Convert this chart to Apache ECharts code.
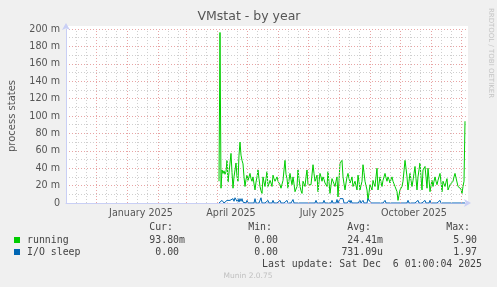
<!DOCTYPE html>
<html><head><meta charset="utf-8">
<script src="https://cdn.jsdelivr.net/npm/echarts@6/dist/echarts.min.js"></script>
<style>html,body{margin:0;padding:0;background:#f0f0f0}#c{width:497px;height:287px}</style>
</head><body><div id="c"></div>
<script>
// ---- data ----
const axisStart = '2024-11-01';
const axisDays = 400;
const seriesStart = '2025-04-03';
const runningValues = [
 25,196,17,38,34,37,33,36,49,24,
 25,22,57,35,17,30,38,46,30,25,
 55,70,55,49,45,30,19,27,32,26,
 30,34,28,25,30,22,15,24,30,38,
 28,19,14,11,30,24,19,28,36,19,
 22,26,23,19,32,28,25,27,30,25,
 23,21,17,15,26,38,49,33,28,17,
 26,34,27,21,30,22,13,16,19,38,
 28,19,14,11,25,22,19,30,38,21,
 22,23,21,19,44,34,25,28,32,13,
 24,34,30,25,30,27,23,21,19,36,
 24,11,20,28,25,22,19,25,30,7,
 26,46,47,49,30,22,15,23,30,34,
 28,23,26,30,19,22,25,20,15,32,
 24,15,20,25,44,35,25,20,15,3,
 12,21,18,15,26,22,19,30,40,15,
 22,30,24,19,26,30,34,29,25,30,
 27,23,27,30,25,22,19,16,13,3,
 9,15,17,19,25,37,49,40,30,15,
 25,34,26,19,26,34,42,28,15,30,
 38,46,30,15,38,40,42,30,17,40,
 27,13,20,26,19,25,30,25,21,26,
 30,34,24,13,25,22,19,24,28,15,
 18,21,20,19,25,30,34,33,32,19,
 20,21,16,11,19,25,94
];
const ioSleepValues = [
 0,0,2,3,1,0,2,1,3,3,
 3,3,3,3,5,2,6,4,2,5,
 1,5,2,5,1,3,0,0,3,0,
 0,0,0,0,0,0,5,0,0,0,
 0,0,6,0,0,0,0,0,0,3,
 0,0,0,0,3,0,0,0,0,0,
 0,3,0,0,0,0,0,0,3,0,
 0,0,0,0,4,0,0,0,0,0,
 0,0,0,0,0,0,0,0,0,0,
 0,0,0,0,0,0,0,3,0,0,
 0,0,0,0,0,3,0,0,0,0,
 0,0,0,3,0,0,0,0,4,0,
 0,5,6,4,5,0,0,0,0,0,
 3,0,3,0,0,0,0,0,0,0,
 0,3,0,0,3,0,0,0,0,5,
 7,6,0,0,0,0,0,0,0,0,
 0,0,0,0,0,0,3,0,0,0,
 0,0,0,0,0,0,0,0,0,0,
 0,0,0,0,0,0,0,0,0,3,
 0,0,0,0,0,0,0,0,0,3,
 0,0,0,0,0,0,3,0,0,0,
 0,3,0,0,0,0,0,0,0,0,
 0,3,0,0,0,0,0,0,0,0,
 0,0,0,0,0,0,0,0,0,0,
 0,0,0,0,0,0,0
];
const tickLabels = ['January 2025','April 2025','July 2025','October 2025'];
const tickLabelDates = ['2025-01-15','2025-04-15','2025-07-15','2025-10-15'];
const yMax = 200;
const yStep = 20;
const seriesNames = ['running','I/O sleep'];
const seriesColors = ['#00cc00','#0066b3'];
const statHeaders = ['Cur:','Min:','Avg:','Max:'];
const statCur = ['93.80m','0.00 '];
const statMin = ['0.00 ','0.00 '];
const statAvg = ['24.41m','731.09u'];
const statMax = ['5.90 ','1.97 '];
const lastUpdate = 'Last update: Sat Dec  6 01:00:04 2025';

// ---- helpers ----
const DAY = 86400000;
const t0 = Date.parse(axisStart + 'T00:00:00Z');
const dayOf = s => (Date.parse(s + 'T00:00:00Z') - t0) / DAY;
const s0 = dayOf(seriesStart);
const runData = runningValues.map((v, i) => [s0 + i, v]);
const ioData = ioSleepValues.map((v, i) => [s0 + i, v]);
const labelDays = tickLabelDates.map(dayOf);

// month grid lines
const gridLines = [];
for (let y = 2024, m = 11; y < 2026 || (y === 2026 && m < 1); ) {
  const mm = String(m).padStart(2, '0');
  const d1 = dayOf(`${y}-${mm}-01`);
  if (d1 > 0 && d1 < axisDays) gridLines.push({xAxis: d1, lineStyle: {color: '#e8a4a4', type: [1, 2], width: 1}});
  ['11', '21'].forEach(dd => {
    const d = dayOf(`${y}-${mm}-${dd}`);
    if (d > 0 && d < axisDays) gridLines.push({xAxis: d, lineStyle: {color: '#cfcfcf', type: [1, 2], width: 1}});
  });
  m++; if (m > 12) { m = 1; y++; }
}

const FONT = 'DejaVu Sans';
const MONO = 'DejaVu Sans Mono';
const TXT = '#555';

const graphic = [
  {type: 'rect', shape: {x: 66, y: 26, width: 402, height: 177}, style: {fill: '#fff'}, z: -10, silent: true},
  {type: 'text', x: 249, y: 17, style: {text: 'VMstat - by year', font: `12.5px "${FONT}"`, fill: TXT, align: 'center', verticalAlign: 'middle'}},
  {type: 'text', x: 12, y: 116, rotation: Math.PI / 2, style: {text: 'process states', font: `10px "${FONT}"`, fill: TXT, align: 'center', verticalAlign: 'middle'}},
  {type: 'text', x: 491, y: 53, rotation: -Math.PI / 2, style: {text: 'RRDTOOL / TOBI OETIKER', font: `7px "${FONT}"`, fill: '#c4c4c4', align: 'center', verticalAlign: 'middle'}},
  {type: 'text', x: 248, y: 276, style: {text: 'Munin 2.0.75', font: `7.5px "${FONT}"`, fill: '#c0c0c0', align: 'center', verticalAlign: 'middle'}},
  {type: 'text', x: 482, y: 264, style: {text: lastUpdate, font: `9.9px "${MONO}"`, fill: '#444', align: 'right', verticalAlign: 'middle'}}
];
const headerRight = [173, 272, 371, 470];
statHeaders.forEach((h, i) => graphic.push({type: 'text', x: headerRight[i], y: 227, style: {text: h, font: `9.9px "${MONO}"`, fill: '#444', align: 'right', verticalAlign: 'middle'}}));
const colRight = [185, 284, 383, 483];
const rowY = [240, 252];
seriesNames.forEach((n, r) => {
  graphic.push({type: 'rect', shape: {x: 14, y: rowY[r] - 3, width: 6, height: 6}, style: {fill: seriesColors[r]}});
  graphic.push({type: 'text', x: 27, y: rowY[r], style: {text: n, font: `9.9px "${MONO}"`, fill: '#444', align: 'left', verticalAlign: 'middle'}});
  [statCur, statMin, statAvg, statMax].forEach((arr, c) => {
    graphic.push({type: 'text', x: colRight[c], y: rowY[r], style: {text: arr[r], font: `9.9px "${MONO}"`, fill: '#444', align: 'right', verticalAlign: 'middle'}});
  });
});

const chart = echarts.init(document.getElementById('c'), null, {renderer: 'canvas'});
chart.setOption({
  animation: false,
  backgroundColor: '#f0f0f0',
  grid: {left: 66, right: 31, top: 29, bottom: 84},
  xAxis: {
    type: 'value', min: 0, max: axisDays,
    axisLine: {show: true, lineStyle: {color: '#c9cff5', width: 1}, symbol: ['none', 'arrow'], symbolSize: [6, 7], symbolOffset: [0, 5]},
    axisTick: {show: false},
    splitLine: {show: false},
    axisLabel: {
      customValues: labelDays,
      formatter: v => { const i = labelDays.findIndex(d => Math.abs(d - v) < 0.01); return i >= 0 ? tickLabels[i] : ''; },
      color: TXT, fontSize: 9.6, fontFamily: FONT, margin: 5
    }
  },
  yAxis: {
    type: 'value', min: 0, max: yMax, interval: yStep,
    axisLine: {show: true, lineStyle: {color: '#c9cff5', width: 1}, symbol: ['none', 'arrow'], symbolSize: [6, 7], symbolOffset: [0, 6]},
    axisTick: {show: false},
    axisLabel: {formatter: v => v === 0 ? '0' : v + ' m', color: TXT, fontSize: 9.6, fontFamily: FONT, margin: 6},
    splitLine: {show: true, lineStyle: {color: '#e8a4a4', type: [1, 2], width: 1}},
    minorTick: {show: false, splitNumber: 2},
    minorSplitLine: {show: true, lineStyle: {color: '#cfcfcf', type: [1, 2], width: 1}}
  },
  graphic: graphic,
  series: [
    {type: 'line', data: [], silent: true, z: 1, markLine: {silent: true, symbol: ['none', 'none'], label: {show: false}, animation: false, data: gridLines}},
    {name: seriesNames[0], type: 'line', data: runData, showSymbol: false, symbol: 'none', z: 3, lineStyle: {color: seriesColors[0], width: 1}, itemStyle: {color: seriesColors[0]}},
    {name: seriesNames[1], type: 'line', data: ioData, showSymbol: false, symbol: 'none', z: 4, lineStyle: {color: seriesColors[1], width: 1}, itemStyle: {color: seriesColors[1]}}
  ]
});
</script>
</body></html>
